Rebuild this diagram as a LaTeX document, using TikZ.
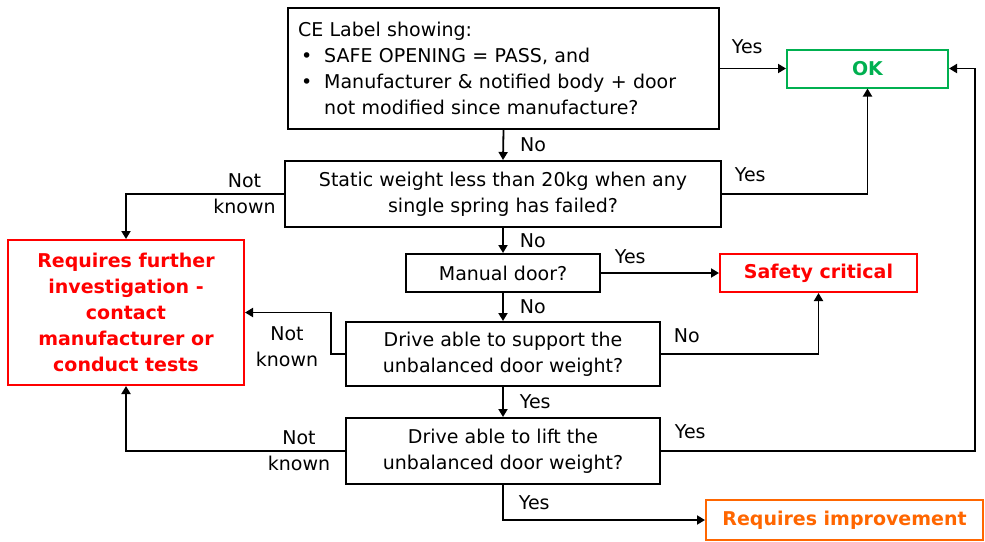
\documentclass[tikz,border=0pt]{standalone}
\usepackage{fontspec}
\setmainfont{DejaVu Sans}
\usetikzlibrary{arrows.meta,positioning}
\definecolor{okgreen}{RGB}{0,176,80}
\definecolor{critred}{RGB}{255,0,0}
\definecolor{imporange}{RGB}{255,102,0}
\tikzset{
    % question boxes
    qbox/.style={
        draw,
        line width=1pt,
        align=center,
        inner sep=0pt,
        font=\fontsize{9.5}{13}\selectfont
    },
    % outcome boxes
    resbox/.style={
        draw=#1,
        text=#1,
        line width=1pt,
        align=center,
        inner sep=0pt,
        font=\fontsize{9.5}{13}\selectfont\bfseries
    },
    flow/.style={
        line width=0.9pt,
        black,
        -{Triangle[length=4pt, width=4.5pt]}
    },
    lbl/.style={
        inner sep=1pt,
        align=center,
        font=\fontsize{9.5}{13}\selectfont
    }
}

\begin{document}
\begin{tikzpicture}[x=0.5pt,y=-0.5pt]
    \useasboundingbox (0,0) rectangle (985,541);

    % ===================== questions =====================
    \node[qbox, minimum width=215.5pt, minimum height=60.5pt, text width=205.5pt, align=left] (ce) at (503.5,68.5)
        {CE Label showing:\\
         \hspace{1.5pt}\textbullet\hspace{6pt}SAFE OPENING = PASS, and\\
         \hspace{1.5pt}\textbullet\hspace{6pt}Manufacturer \& notified body + door\\
         \hspace{1.5pt}\hphantom{\textbullet}\hspace{6pt}not modified since manufacture?};
    \node[qbox, minimum width=218pt, minimum height=33pt] (static) at (503,194)
        {Static weight less than 20kg when any\\single spring has failed?};
    \node[qbox, minimum width=97pt, minimum height=19pt] (manual) at (503,273) {Manual door?};
    \node[qbox, minimum width=157pt, minimum height=32pt] (drsup) at (503,354)
        {Drive able to support the\\unbalanced door weight?};
    \node[qbox, minimum width=157pt, minimum height=33pt] (drlift) at (503,451)
        {Drive able to lift the\\unbalanced door weight?};

    % ===================== outcomes =====================
    \node[resbox=okgreen, minimum width=80.5pt, minimum height=19pt] (ok) at (867.5,68.5) {OK};
    \node[resbox=critred, minimum width=98.5pt, minimum height=19pt] (safe) at (818.5,273) {Safety critical};
    \node[resbox=critred, minimum width=118pt, minimum height=72.5pt] (inv) at (126,312.5)
        {Requires further\\investigation -\\contact\\manufacturer or\\conduct tests};
    \node[resbox=imporange, minimum width=138.5pt, minimum height=20pt] (imp) at (844.5,520) {Requires improvement};

    % ===================== connectors =====================
    \draw[flow] (ce.east) -- node[lbl, pos=0, above right=6pt and 4.5pt] {Yes} (ok.west);
    \draw[flow] (ce.south) -- node[lbl, right=7pt] {No} (static.north);
    \draw[flow] (static.east) -- node[lbl, pos=0, above right=4.5pt and 5pt] {Yes} (static.east -| ok.south) -- (ok.south);
    \draw[flow] (static.west) -- node[lbl, pos=0.25] {Not\\known} (static.west -| inv.north) -- (inv.north);
    \draw[flow] (static.south) -- node[lbl, right=7pt] {No} (manual.north);
    \draw[flow] (manual.east) -- node[lbl, pos=0, above right=3pt and 5.5pt] {Yes} (safe.west);
    \draw[flow] (manual.south) -- node[lbl, right=7pt] {No} (drsup.north);
    \draw[flow] (drsup.east) -- node[lbl, pos=0, above right=4pt and 5pt] {No} (drsup.east -| safe.south) -- (safe.south);
    \draw[flow] (drsup.west) -- ++(-14,0) coordinate (supbend)
        -- node[lbl, pos=0.17, left=5pt] {Not\\known} (supbend |- inv.east) -- (inv.east);
    \draw[flow] (drsup.south) -- node[lbl, right=7pt] {Yes} (drlift.north);
    \draw[flow] (drlift.west) -- node[lbl, pos=0.21] {Not\\known} (drlift.west -| inv.south) -- (inv.south);
    \draw[flow] (drlift.east) -- node[lbl, pos=0, above right=4.5pt and 5.5pt] {Yes} (975,451) coordinate (liftbend)
        -- (liftbend |- ok.east) -- (ok.east);
    \draw[flow] (drlift.south) -- node[lbl, right=6.5pt] {Yes} (drlift.south |- imp.west) -- (imp.west);
\end{tikzpicture}
\end{document}
